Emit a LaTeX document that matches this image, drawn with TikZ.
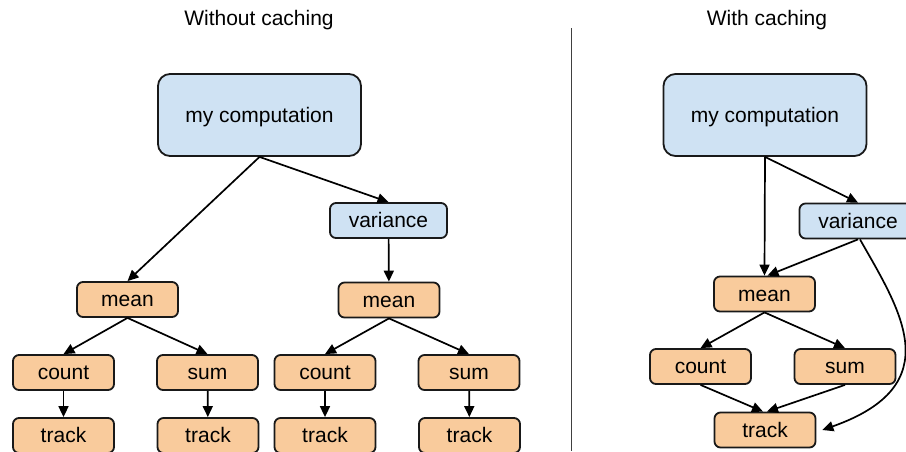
\documentclass[tikz,border=0pt]{standalone}
\usepackage{fontspec}
\setmainfont{Liberation Sans}
\usetikzlibrary{arrows.meta, positioning}

\definecolor{compblue}{HTML}{CFE2F3}
\definecolor{oporange}{HTML}{F9CB9C}

\begin{document}
\begin{tikzpicture}[
	x=1pt, y=-1pt,
	every node/.style={font=\fontsize{21}{25}\selectfont},
	box/.style={draw=black!90, line width=1.8pt, rounded corners=6pt, minimum height=35pt, inner sep=0pt, text height=18pt, text depth=4pt},
	topbox/.style={box, fill=compblue, minimum width=203pt, minimum height=82pt, rounded corners=12pt},
	statbox/.style={box, fill=compblue, minimum width=117pt},
	opbox/.style={box, fill=oporange, minimum width=101pt},
	arrow/.style={-{Triangle[length=11pt, width=10pt]}, line width=1.7pt}
	]
	
	\clip (0,0) rectangle (906,451);
	
	% === TITLES AND DIVIDER ===
	\node (titleA) at (259,20) {Without caching};
	\node (titleB) at (767,20) {With caching};
	\draw[black!75, line width=1pt] (571,28) -- (571,451);
	
	% === WITHOUT CACHING ===
	\node[topbox] (compA) at (259.5,115) {my computation};
	\node[statbox] (varA) at (388.5,220.5) {variance};
	\node[opbox] (meanA) at (127.5,299.5) {mean};
	\node[opbox] (meanB) at (389,300) {mean};
	
	\draw[arrow] (compA.south) -- (meanA.north);
	\draw[arrow] (compA.south) -- (varA.north);
	\draw[arrow] (varA) -- (meanB);
	
	% each mean needs its own count, sum and tracks
	\foreach \m/\x in {A/127.5, B/389} {
		\node[opbox] (count\m) at (\x-64,372.5) {count};
		\node[opbox] (sum\m) at (\x+80,372.5) {sum};
		\node[opbox] (trackc\m) at (\x-64,435.5) {track};
		\node[opbox] (tracks\m) at (\x+80.5,435.5) {track};
		\draw[arrow] (mean\m.south) -- (count\m.north);
		\draw[arrow] (mean\m.south) -- (sum\m.north);
		\draw[arrow] (count\m) -- (trackc\m);
		\draw[arrow] (sum\m) -- (tracks\m);
	}
	
	% === WITH CACHING ===
	\node[topbox] (compC) at (765,115) {my computation};
	\node[statbox] (varC) at (858,221) {variance};
	\node[opbox] (meanC) at (764.5,294) {mean};
	\node[opbox] (countC) at (700.5,366.5) {count};
	\node[opbox] (sumC) at (845,366.5) {sum};
	\node[opbox] (trackC) at (765,430) {track};
	
	\draw[arrow] (compC.south) -- (meanC.north);
	\draw[arrow] (compC.south) -- (varC.north);
	\draw[arrow] (varC.south) -- ([xshift=3pt]meanC.north);
	\draw[arrow] (meanC.south) -- (countC.north);
	\draw[arrow] (meanC.south) -- (sumC.north);
	\draw[arrow] (countC.south) -- ([xshift=-2pt]trackC.north);
	\draw[arrow] (sumC.south) -- ([xshift=2pt]trackC.north);
	
	% variance reuses the cached track directly
	\draw[arrow] ([xshift=2pt]varC.south) .. controls (900,310) and (950,385) .. ([xshift=6pt]trackC.east);
	
\end{tikzpicture}
\end{document}
